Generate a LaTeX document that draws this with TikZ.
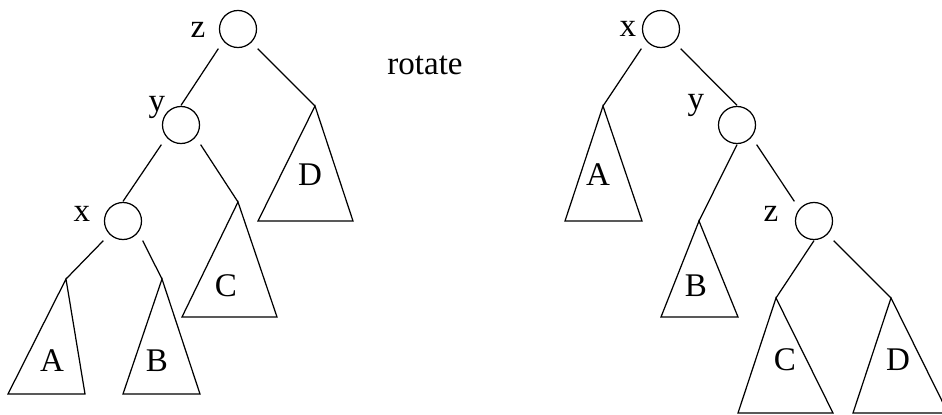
\documentclass[tikz,border=0pt]{standalone}
\usepackage{fontspec}
\setmainfont{Liberation Serif}
\usepackage{tikz}

\tikzset{
  vertex/.style={rectangle, minimum size=0.38cm, inner sep=0pt,
    path picture={\draw (path picture bounding box.center) circle (0.185cm);}},
  tag/.style={inner sep=0pt},
}

\begin{document}
\begin{tikzpicture}[
  x=0.01cm, y=-0.01cm,
  line width=0.35pt,
  font=\fontsize{9.4}{11}\selectfont,
]
\useasboundingbox (0,0) rectangle (942,415);

% left tree
\node[vertex] (lz) at (238,29) {};
\node[vertex] (ly) at (181,125) {};
\node[vertex] (lx) at (123,221) {};
\node[tag] at (198,30) {z};
\node[tag] at (157,107) {y};
\node[tag] at (82,214) {x};

\coordinate (lA) at (66,279);
\draw (lA) -- (8,394) -- (85,394) -- cycle;
\node[tag] at (52,361) {A};
\coordinate (lB) at (162,279);
\draw (lB) -- (123,394) -- (200,394) -- cycle;
\node[tag] at (157,361) {B};
\coordinate (lC) at (238,202);
\draw (lC) -- (182,317) -- (277,317) -- cycle;
\node[tag] at (226,286) {C};
\coordinate (lD) at (315,106);
\draw (lD) -- (258,221) -- (353,221) -- cycle;
\node[tag] at (310,175) {D};

\draw (lz.south west) -- (ly.north);
\draw (lz.south east) -- (lD);
\draw (ly.south west) -- (lx.north);
\draw (ly.south east) -- (lC);
\draw (lx.south west) -- (lA);
\draw (lx.south east) -- (lB);

\node[tag] at (425,65) {rotate};

% right tree
\node[vertex] (rx) at (661,29) {};
\node[vertex] (ry) at (737,125) {};
\node[vertex] (rz) at (814,221) {};
\node[tag] at (628,29) {x};
\node[tag] at (696,105) {y};
\node[tag] at (771,214) {z};

\coordinate (rA) at (603,106);
\draw (rA) -- (565,221) -- (642,221) -- cycle;
\node[tag] at (598,175) {A};
\coordinate (rB) at (699,221);
\draw (rB) -- (661,317) -- (738,317) -- cycle;
\node[tag] at (696,286) {B};
\coordinate (rC) at (776,298);
\draw (rC) -- (738,413) -- (833,413) -- cycle;
\node[tag] at (785,360) {C};
\coordinate (rD) at (891,298);
\draw (rD) -- (853,413) -- (948,413) -- cycle;
\node[tag] at (898,360) {D};

\draw (rx.south west) -- (rA);
\draw (rx.south east) -- (ry.north);
\draw (ry.south) -- (rB);
\draw (ry.south east) -- (rz.north west);
\draw (rz.south) -- (rC);
\draw (rz.south east) -- (rD);

\end{tikzpicture}
\end{document}
